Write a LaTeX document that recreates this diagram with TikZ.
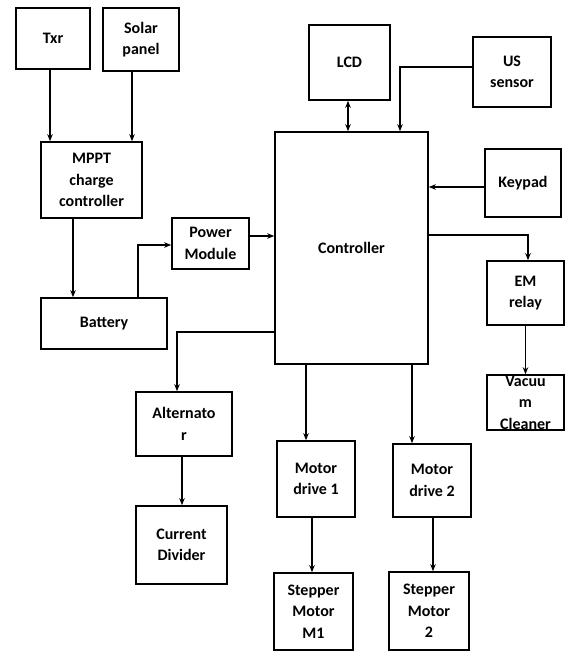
\documentclass[tikz,border=0pt]{standalone}
\usepackage{fontspec}
\setmainfont{Carlito}
\usepackage{tikz}
\usetikzlibrary{arrows.meta}

\begin{document}
\begin{tikzpicture}[x=1pt,y=-1pt,>={Stealth[length=7pt,width=5.5pt]},
  blk/.style={draw,line width=1.6pt,inner sep=0pt,align=center,font=\bfseries\fontsize{16}{21.5}\selectfont},
  conn/.style={line width=1.2pt}]
\useasboundingbox (0,0) rectangle (565,651);
\node[blk,minimum width=74pt,minimum height=61pt] (txr) at (53,38.5) {Txr};
\node[blk,minimum width=76pt,minimum height=63pt] (solar) at (141,39.5) {Solar\\panel};
\node[blk,minimum width=101pt,minimum height=76pt] (mppt) at (91.5,180) {MPPT\\charge\\controller};
\node[blk,minimum width=126pt,minimum height=51pt] (batt) at (104,323.5) {Battery};
\node[blk,minimum width=77pt,minimum height=51pt] (power) at (210.5,243.5) {Power\\Module};
\node[blk,minimum width=153pt,minimum height=232pt] (ctrl) at (351.5,248) {Controller};
\node[blk,minimum width=81pt,minimum height=75pt] (lcd) at (349.5,62.5) {LCD};
\node[blk,minimum width=78pt,minimum height=70pt] (us) at (512,72) {US\\sensor};
\node[blk,minimum width=76pt,minimum height=68pt] (key) at (523,183) {Keypad};
\node[blk,minimum width=77pt,minimum height=64pt] (em) at (525.5,293) {EM\\relay};
\node[blk,minimum width=77pt,minimum height=55pt] (vac) at (525.5,402.5) {Vacuu\\m\\Cleaner};
\node[blk,minimum width=96pt,minimum height=64pt] (alt) at (184,424) {Alternato\\r};
\node[blk,minimum width=91pt,minimum height=78pt] (cd) at (181.5,545) {Current\\Divider};
\node[blk,minimum width=78pt,minimum height=76pt] (md1) at (316,479) {Motor\\drive 1};
\node[blk,minimum width=79pt,minimum height=77pt] (sm1) at (313.5,611.5) {Stepper\\Motor\\M1};
\node[blk,minimum width=78pt,minimum height=73pt] (md2) at (432,480.5) {Motor\\drive 2};
\node[blk,minimum width=80pt,minimum height=78pt] (sm2) at (429,611) {Stepper\\Motor\\2};
\draw[conn,->] ([xshift=-3pt]txr.south) -- ([xshift=-3pt]txr.south |- mppt.north);
\draw[conn,->] ([xshift=-9pt]solar.south) -- ([xshift=-9pt]solar.south |- mppt.north);
\draw[conn,->] ([xshift=-18.5pt]mppt.south) -- ([xshift=-18.5pt]mppt.south |- batt.north);
\draw[conn,->] ([xshift=34pt]batt.north) |- ([yshift=-1.5pt]power.west);
\draw[conn,->] ([yshift=7.5pt]power.east) -- ([yshift=7.5pt]power.east -| ctrl.west);
\draw[conn,<->] ([xshift=-1.5pt]lcd.south) -- ([xshift=-1.5pt]lcd.south |- ctrl.north);
\draw[conn,->] ([yshift=5pt]us.west) -| ([xshift=48.5pt]ctrl.north);
\draw[conn,->] ([yshift=-4pt]key.west) -- ([yshift=-4pt]key.west -| ctrl.east);
\draw[conn,->] ([yshift=13pt]ctrl.east) -| ([xshift=2.5pt]em.north);
\draw[conn,->] (em.south) -- (vac.north);
\draw[conn,->] ([yshift=-84pt]ctrl.west) -| ([xshift=-7pt]alt.north);
\draw[conn,->] ([xshift=-2pt]alt.south) -- ([xshift=-2pt]alt.south |- cd.north);
\draw[conn,->] ([xshift=-45.5pt]ctrl.south) -- ([xshift=-45.5pt]ctrl.south |- md1.north);
\draw[conn,->] ([xshift=60.5pt]ctrl.south) -- ([xshift=60.5pt]ctrl.south |- md2.north);
\draw[conn,->] ([xshift=-4pt]md1.south) -- ([xshift=-4pt]md1.south |- sm1.north);
\draw[conn,->] ([xshift=1pt]md2.south) -- ([xshift=1pt]md2.south |- sm2.north);
\end{tikzpicture}
\end{document}
